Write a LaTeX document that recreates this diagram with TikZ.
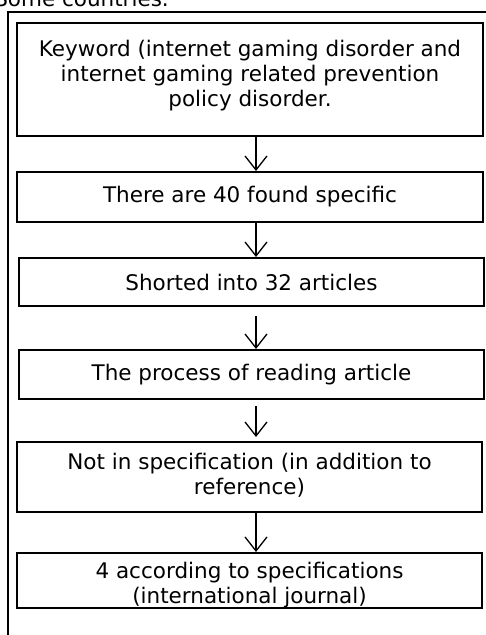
\documentclass[tikz,border=0pt]{standalone}
\usepackage{fontspec}
\setmainfont{DejaVu Sans}
\usetikzlibrary{arrows.meta}
\begin{document}
\begin{tikzpicture}[x=1pt,y=-1pt,
  box/.style={draw=black,line width=2pt,minimum width=466pt,inner sep=0pt},
  txt/.style={align=center,inner sep=0pt,font=\fontsize{21.5}{25}\selectfont},
  arr/.style={draw=black,line width=1.3pt,-{Straight Barb[length=14pt,width=22pt]}},
  frame/.style={draw=black,line width=1.2pt}]
\useasboundingbox (0,0) rectangle (486,635);
\node[anchor=base east,inner sep=0pt,font=\fontsize{21.5}{25}\selectfont] (cap) at (169,6) {Some countries.};
\coordinate (fa) at (486,12);
\coordinate (fb) at (8,12);
\coordinate (fc) at (8,635);
\draw[frame] (fa) -- (fb) -- (fc);
\node[box,minimum height=113pt,label={[txt,yshift=4pt]center:Keyword (internet gaming disorder and\\internet gaming related prevention\\policy disorder.}] (b1) at (250,79.5) {};
\node[box,minimum height=50pt,label={[txt]center:There are 40 found specific}] (b2) at (250,197) {};
\node[box,minimum height=48pt,minimum width=465pt,label={[txt]center:Shorted into 32 articles}] (b3) at (251.5,282) {};
\node[box,minimum height=49pt,minimum width=465pt,label={[txt]center:The process of reading article}] (b4) at (251.5,374.5) {};
\node[box,minimum height=70pt,minimum width=465pt,label={[txt,yshift=2pt]center:Not in specification (in addition to\\reference)}] (b5) at (249.5,477) {};
\node[box,minimum height=55pt,minimum width=465pt,label={[txt,yshift=-5pt]center:4 according to specifications\\(international journal)}] (b6) at (249.5,580.5) {};
\draw[arr] ([xshift=6pt]b1.south) -- ([xshift=6pt]b2.north);
\draw[arr] ([xshift=6pt]b2.south) -- ([xshift=4.5pt]b3.north);
\draw[arr] ([xshift=4.5pt,yshift=-9pt]b3.south) -- ([xshift=4.5pt]b4.north);
\draw[arr] ([xshift=4.5pt,yshift=-6pt]b4.south) -- ([xshift=6.5pt,yshift=4pt]b5.north);
\draw[arr] ([xshift=6.5pt]b5.south) -- ([xshift=6.5pt]b6.north);
\end{tikzpicture}
\end{document}
